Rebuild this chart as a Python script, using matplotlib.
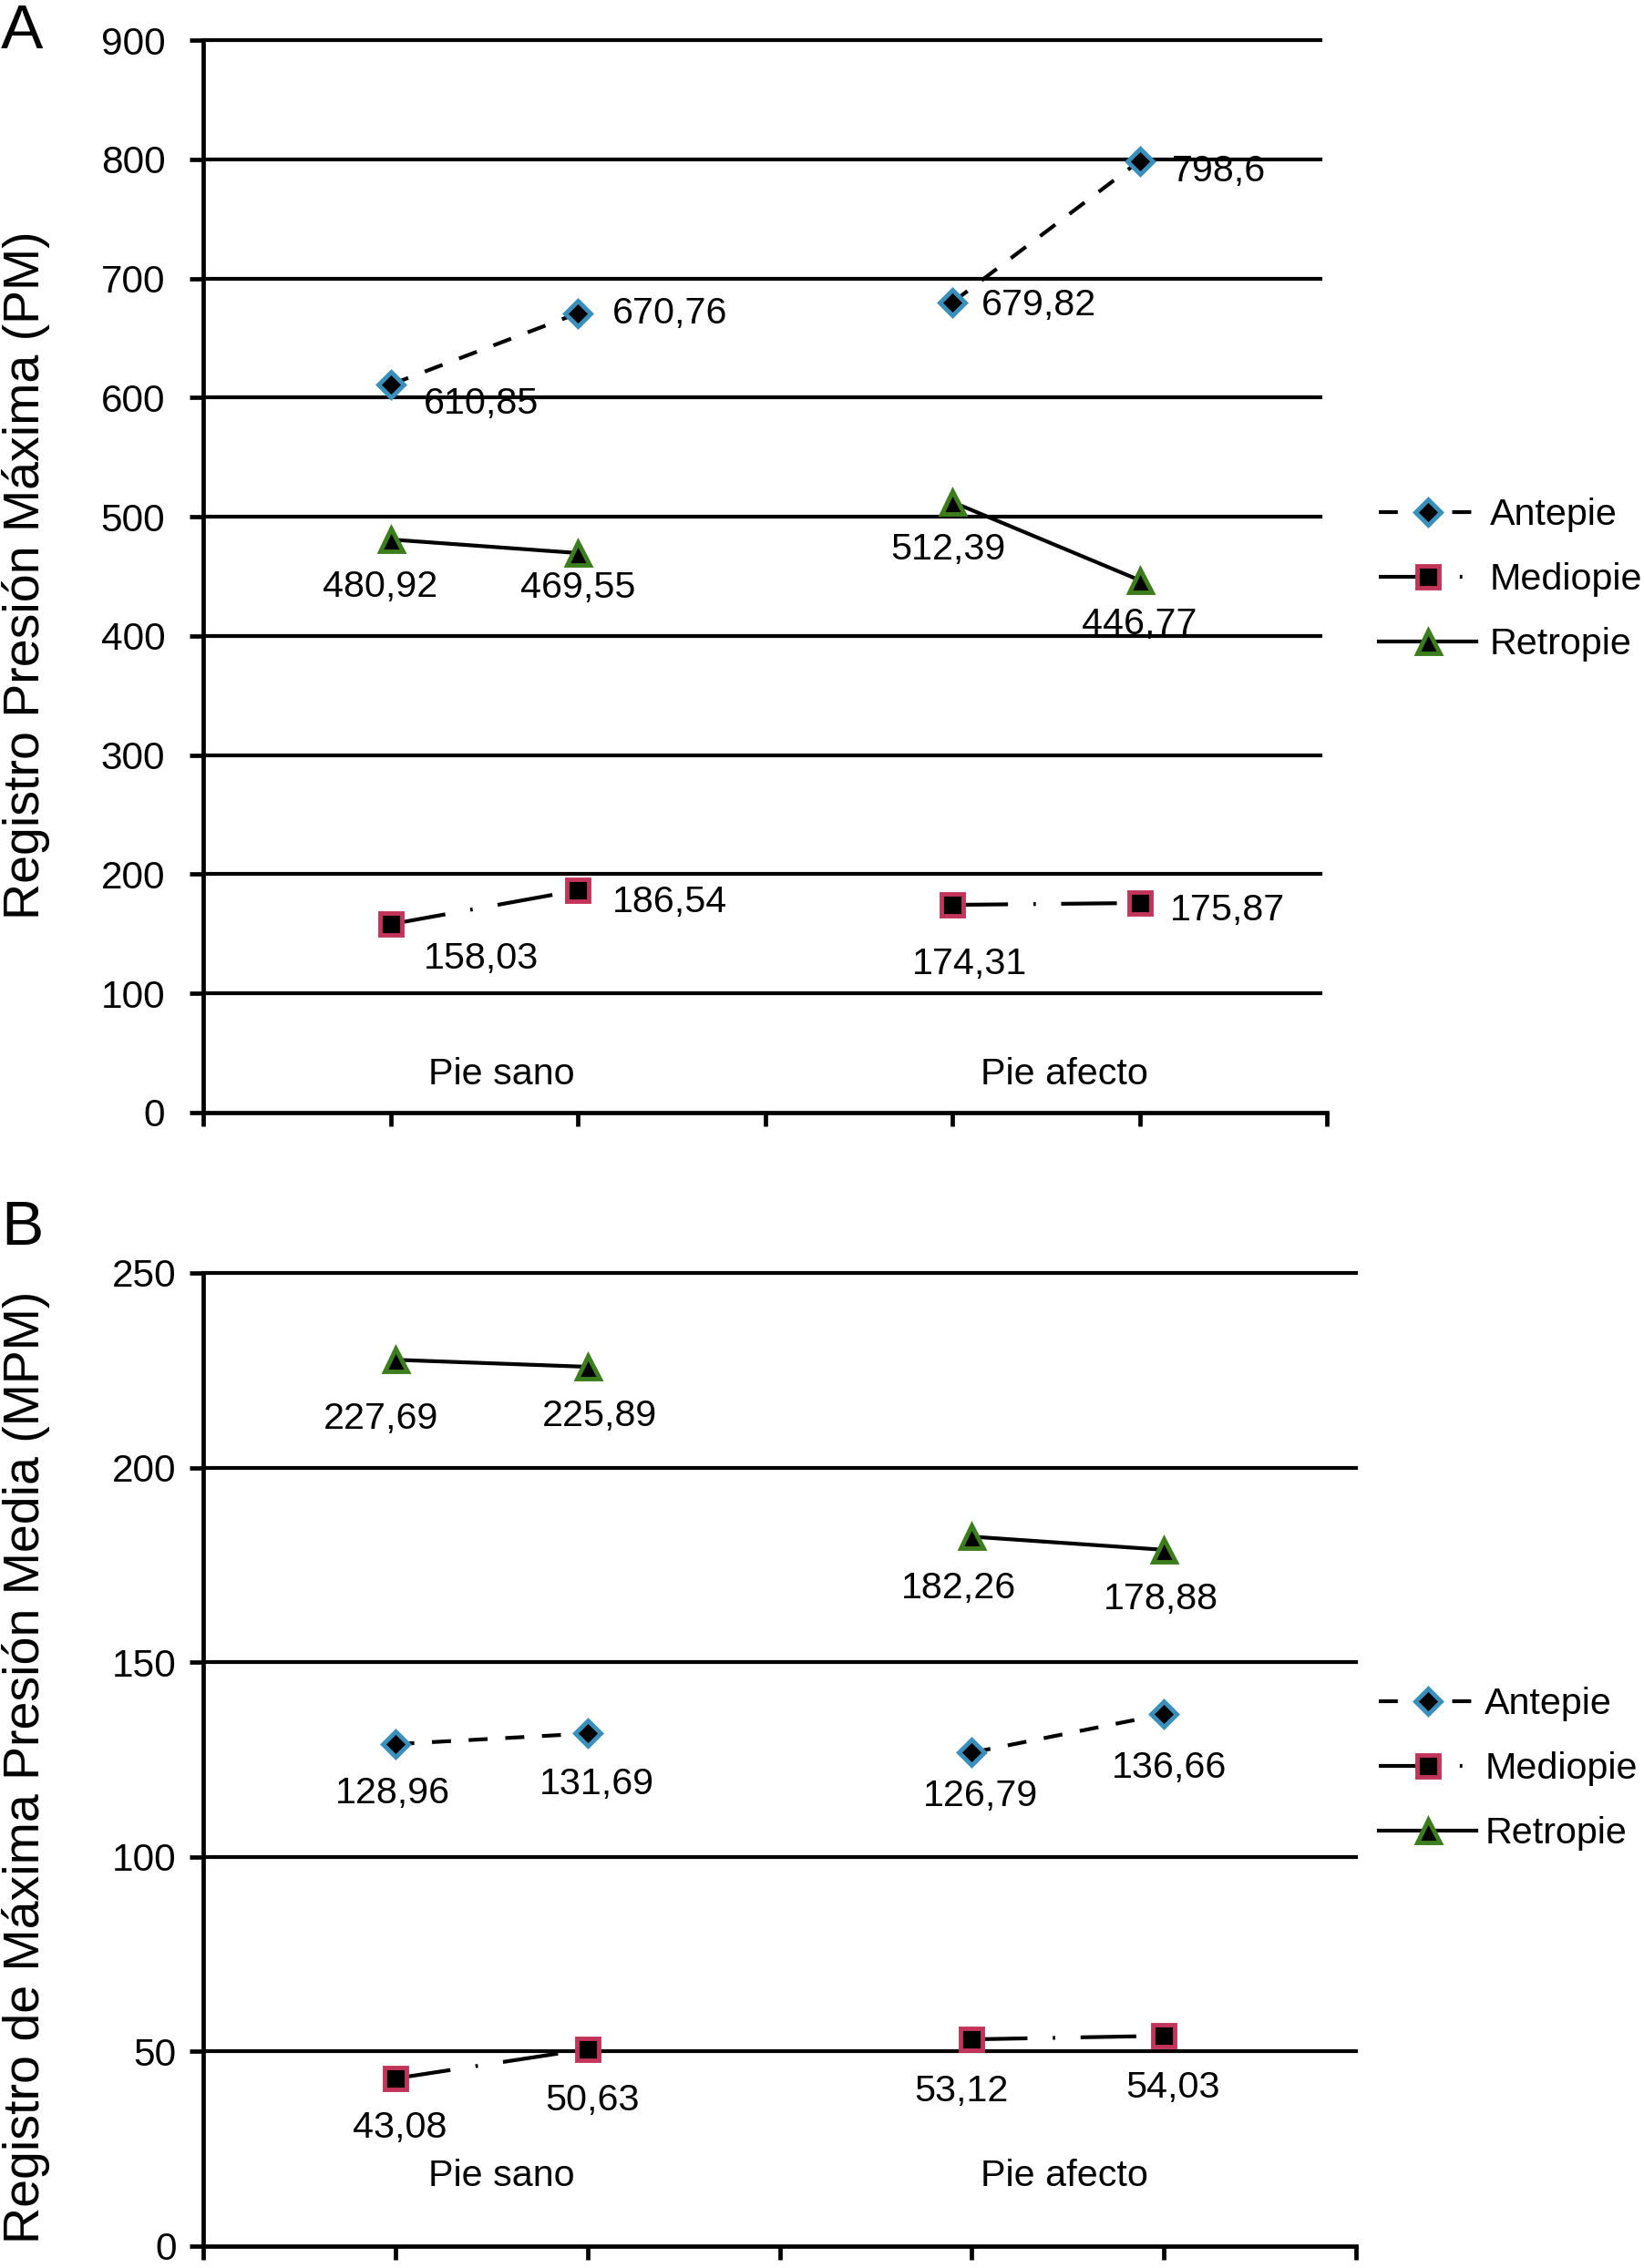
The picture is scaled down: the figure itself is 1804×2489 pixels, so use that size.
import matplotlib
matplotlib.use('Agg')
import matplotlib.pyplot as plt

plt.rcParams['font.family'] = ['Liberation Sans', 'DejaVu Sans']
plt.rcParams['lines.scale_dashes'] = False

# ---------------- data ----------------
positions = [1, 2, 4, 5]          # Pie sano (2 pts), Pie afecto (2 pts)
groups = ['Pie sano', 'Pie afecto']
series_names = ['Antepie', 'Mediopie', 'Retropie']

pm_antepie = [610.85, 670.76, 679.82, 798.6]
pm_mediopie = [158.03, 186.54, 174.31, 175.87]
pm_retropie = [480.92, 469.55, 512.39, 446.77]

mpm_antepie = [128.96, 131.69, 126.79, 136.66]
mpm_mediopie = [43.08, 50.63, 53.12, 54.03]
mpm_retropie = [227.69, 225.89, 182.26, 178.88]

pm_ticks = list(range(0, 1000, 100))
mpm_ticks = list(range(0, 300, 50))

# ---------------- styles ----------------
styles = {
    'Antepie': dict(marker='D', ms=14, mec='#3a90bd', ls=(0, (15, 14))),
    'Mediopie': dict(marker='s', ms=17, mec='#c3345a', ls=(0, (44, 20, 2, 20))),
    'Retropie': dict(marker='^', ms=18, mec='#3c7d1c', ls='-'),
}

# label offsets in pixels (dx, dy), ha
offs_A = {
    'Antepie': [((36, -21), 'left'), ((38, 0), 'left'), ((32, -3), 'left'), ((35, -11), 'left')],
    'Mediopie': [((36, -38), 'left'), ((38, -13), 'left'), ((19, -65), 'center'), ((33, -8), 'left')],
    'Retropie': [((-11, -52), 'center'), ((0, -38), 'center'), ((-5, -52), 'center'), ((0, -48), 'center')],
}
offs_B = {
    'Antepie': [((-3, -54), 'center'), ((10, -56), 'center'), ((10, -48), 'center'), ((6, -59), 'center')],
    'Mediopie': [((5, -54), 'center'), ((5, -56), 'center'), ((-11, -57), 'center'), ((10, -57), 'center')],
    'Retropie': [((-16, -65), 'center'), ((13, -54), 'center'), ((-14, -57), 'center'), ((-3, -54), 'center')],
}

FS = 29.7
W, H = 1804, 2489
fig = plt.figure(figsize=(W / 100, H / 100), dpi=100)

def fmt(v):
    return str(v).replace('.', ',')

def draw_panel(ax, data, ticks, offs, group_x, group_y, tick_pad, grid_end):
    ax.set_xlim(0, 6)
    ax.set_ylim(ticks[0], ticks[-1])
    ax.set_yticks(ticks)
    ax.set_xticks(range(0, 7))
    ax.set_xticklabels([])
    for s in ['top', 'right']:
        ax.spines[s].set_visible(False)
    for s in ['left', 'bottom']:
        ax.spines[s].set_linewidth(3.4)
    ax.tick_params(axis='both', direction='out', length=11, width=3.4, labelsize=30.5, pad=tick_pad)
    for t in ticks[1:]:
        ax.axhline(t, xmin=0, xmax=grid_end, color='black', lw=3.0, zorder=1, clip_on=False)
    handles = []
    for name, vals in zip(series_names, data):
        st = styles[name]
        h = None
        for i in (0, 2):
            ln, = ax.plot(positions[i:i + 2], vals[i:i + 2], color='black', lw=3.0,
                          linestyle=st['ls'], marker=st['marker'], ms=st['ms'],
                          mfc='black', mec=st['mec'], mew=3.5, zorder=4,
                          dash_capstyle='butt', clip_on=False)
            if h is None:
                h = ln
        handles.append(h)
        for j, v in enumerate(vals):
            (dx, dy), ha = offs[name][j]
            ax.annotate(fmt(v), (positions[j], v), xytext=(dx, dy), textcoords='offset pixels',
                        ha=ha, va='center', fontsize=FS, zorder=5)
    for gx, g in zip(group_x, groups):
        ax.text(gx, group_y, g, ha='center', va='center', fontsize=FS)
    return handles

axA = fig.add_axes([223 / W, 1 - 1221 / H, (1456 - 223) / W, (1221 - 44) / H])
hA = draw_panel(axA, [pm_antepie, pm_mediopie, pm_retropie], pm_ticks, offs_A,
                [1.594, 4.597], 32.3, 19, (1449 - 223) / (1456 - 223))
axB = fig.add_axes([223 / W, 1 - 2465 / H, (1488 - 223) / W, (2465 - 1397) / H])
hB = draw_panel(axB, [mpm_antepie, mpm_mediopie, mpm_retropie], mpm_ticks, offs_B,
                [1.554, 4.48], 18.1, 10, 1.0)

fig.legend(hA, series_names, loc='center left', bbox_to_anchor=(1513 / W, 1 - 636 / H),
           bbox_transform=fig.transFigure, frameon=False, fontsize=FS, handlelength=2.6,
           handletextpad=0.35, labelspacing=0.8, borderpad=0, borderaxespad=0)
fig.legend(hB, series_names, loc='center left', bbox_to_anchor=(1513 / W, 1 - 1941 / H),
           bbox_transform=fig.transFigure, frameon=False, fontsize=FS, handlelength=2.6,
           handletextpad=0.22, labelspacing=0.8, borderpad=0, borderaxespad=0)

fig.text(29 / W, 1 - 631 / H, 'Registro Presión Máxima (PM)', rotation=90,
         ha='center', va='center', fontsize=40)
fig.text(29 / W, 1 - 1939 / H, 'Registro de Máxima Presión Media (MPM)', rotation=90,
         ha='center', va='center', fontsize=40)
fig.text(24 / W, 1 - 35 / H, 'A', ha='center', va='center', fontsize=50)
fig.text(24 / W, 1 - 1348 / H, 'B', ha='center', va='center', fontsize=50)

fig.savefig('out.png', dpi=100)
